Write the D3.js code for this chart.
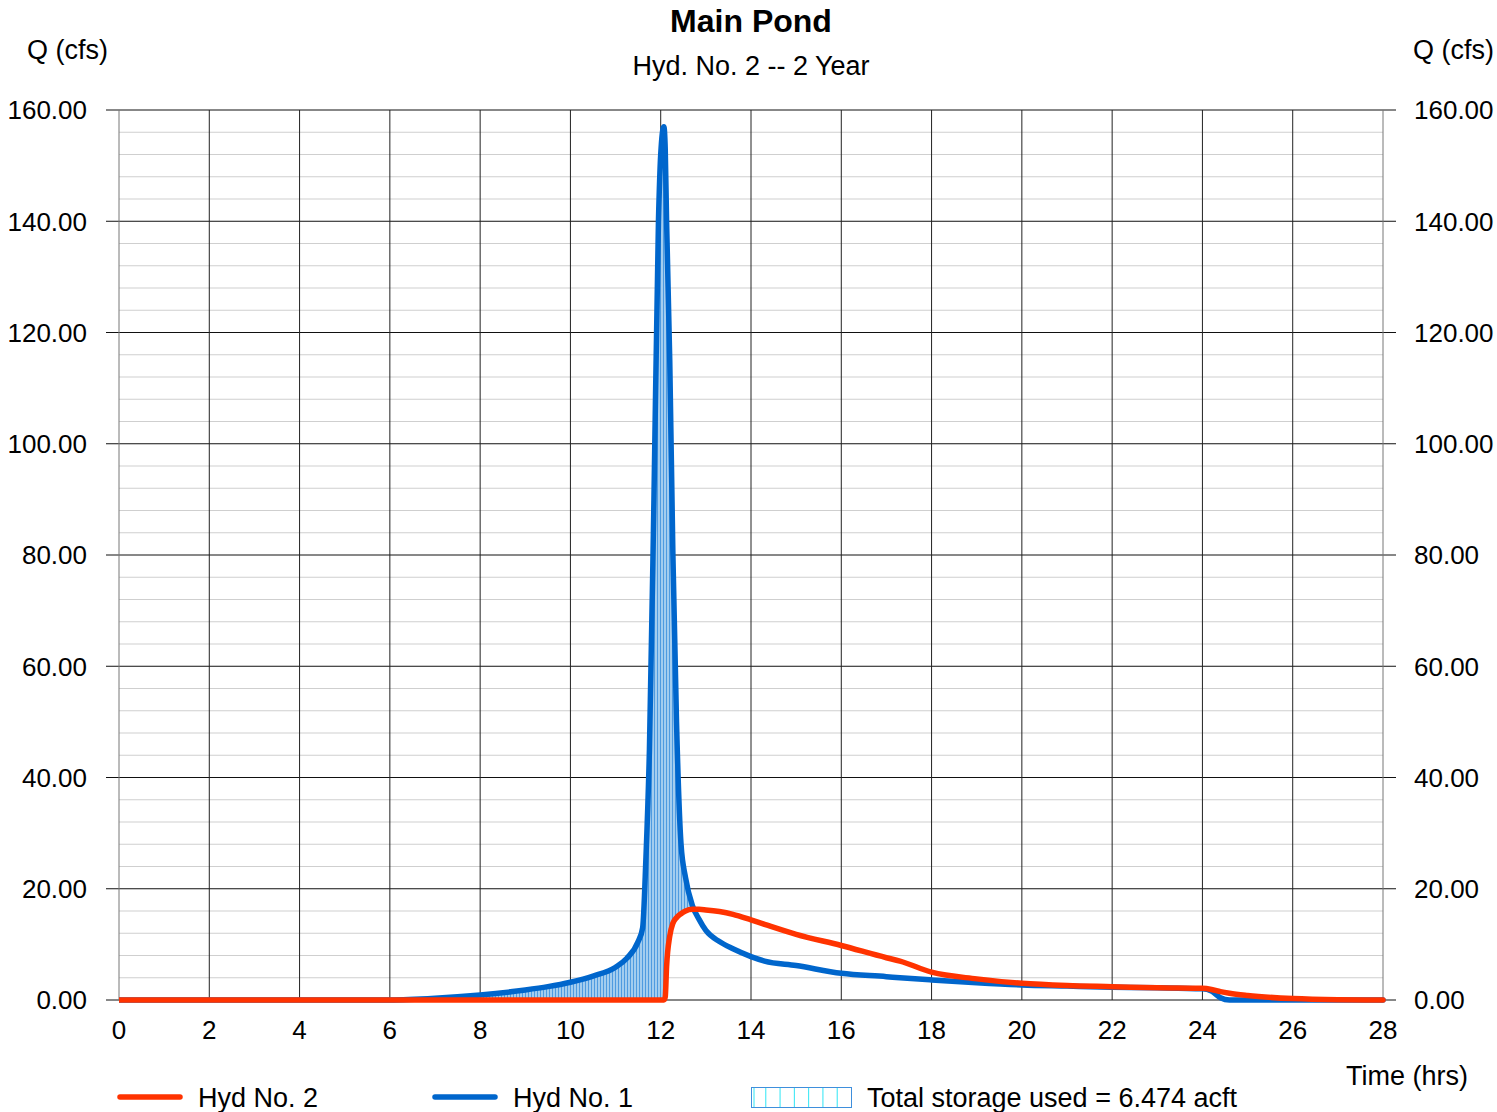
<!DOCTYPE html>
<html>
<head>
<meta charset="utf-8">
<script src="https://cdn.jsdelivr.net/npm/d3@7"></script>
<style>
  body { margin: 0; background: #fff; }
  svg text { font-family: "Liberation Sans", Arial, sans-serif; fill: #000; }
</style>
</head>
<body>
<svg id="chart" width="1497" height="1112"></svg>
<script>
(function() {
    'use strict';

    // time axis (hrs), shared by both hydrographs
    var hours = [0, 6, 7, 8, 9, 9.5, 10, 10.5, 11, 11.25, 11.5, 11.6, 11.67, 11.75, 11.85, 11.95,
        12.0, 12.07, 12.1, 12.13, 12.2, 12.27, 12.35, 12.45, 12.55, 12.7, 12.85, 13.0, 13.3, 13.6,
        14.0, 14.3, 15, 16, 17, 17.3, 18, 19, 20, 21, 22, 23, 24, 24.2, 24.4, 24.6, 25, 26, 27, 28];

    // Hyd No. 1 - inflow (cfs)
    var hyd1 = [0, 0, 0.3, 0.9, 1.8, 2.4, 3.2, 4.3, 5.9, 7.5, 10.5, 13, 25, 45, 90, 140,
        152, 157, 153, 140, 115, 80, 50, 28, 22, 17, 14.5, 12.5, 10.5, 9.2,
        7.8, 7.0, 6.2, 4.8, 4.2, 4.0, 3.6, 3.1, 2.7, 2.5, 2.3, 2.2, 2.0, 1.6, 0.4, 0, 0, 0, 0, 0];

    // Hyd No. 2 - pond outflow (cfs)
    var hyd2 = [0, 0, 0, 0, 0, 0, 0, 0, 0, 0, 0, 0, 0, 0, 0, 0,
        0, 0, 0.5, 6, 11.5, 13.8, 14.8, 15.5, 16.0, 16.3, 16.3, 16.2, 15.9, 15.4,
        14.4, 13.6, 11.8, 9.8, 7.6, 7.0, 5.0, 3.8, 3.0, 2.6, 2.4, 2.2, 2.1, 1.9, 1.5, 1.2, 0.8, 0.25, 0.05, 0];

    var xTicks = d3.range(0, 29, 2);
    var yTicks = d3.range(0, 161, 20);
    var yMinor = d3.range(0, 161, 4);

    var legendItems = ["Hyd No. 2", "Hyd No. 1", "Total storage used = 6.474 acft"];

    var red = "#ff3300",
        blue = "#0066cc";

    var left = 119, right = 1383, top = 110, bottom = 1000;

    var svg = d3.select("#chart");

    var x = d3.scaleLinear().domain([0, 28]).range([left, right]);
    var y = d3.scaleLinear().domain([0, 160]).range([bottom, top]);

    var defs = svg.append("defs");
    defs.append("clipPath").attr("id", "plot")
        .append("rect").attr("x", left).attr("y", top - 5)
        .attr("width", right - left + 5).attr("height", bottom - top + 10);

    var pat = defs.append("pattern").attr("id", "hatch")
        .attr("patternUnits", "userSpaceOnUse")
        .attr("width", 3).attr("height", 10);
    pat.append("rect").attr("width", 3).attr("height", 10).attr("fill", "#a3cdef");
    pat.append("rect").attr("width", 1).attr("height", 10).attr("fill", "#4f9be0");

    // minor grid
    svg.append("g").selectAll("line")
        .data(yMinor.filter(function(d) { return d % 20 !== 0; }))
        .enter().append("line")
        .attr("x1", left).attr("x2", right)
        .attr("y1", function(d) { return y(d); })
        .attr("y2", function(d) { return y(d); })
        .attr("stroke", "#cfcfcf").attr("stroke-width", 1);

    // major grid
    svg.append("g").selectAll("line")
        .data(yTicks)
        .enter().append("line")
        .attr("x1", left - 13).attr("x2", right + 13)
        .attr("y1", function(d) { return y(d); })
        .attr("y2", function(d) { return y(d); })
        .attr("stroke", "#111").attr("stroke-width", 1);

    svg.append("g").selectAll("line")
        .data(xTicks)
        .enter().append("line")
        .attr("x1", function(d) { return x(d); })
        .attr("x2", function(d) { return x(d); })
        .attr("y1", top).attr("y2", bottom)
        .attr("stroke", function(d) { return (d === 0 || d === 28) ? "#777" : "#222"; })
        .attr("stroke-width", 1);

    var plot = svg.append("g").attr("clip-path", "url(#plot)");

    // storage fill between inflow and outflow
    var storage = d3.area()
        .curve(d3.curveMonotoneX)
        .x(function(d, i) { return x(hours[i]); })
        .y0(function(d, i) { return y(Math.min(hyd2[i], hyd1[i])); })
        .y1(function(d, i) { return y(hyd1[i]); });

    plot.append("path")
        .datum(hyd1)
        .attr("d", storage)
        .attr("fill", "url(#hatch)");

    var line = function(series) {
        return d3.line()
            .curve(d3.curveMonotoneX)
            .x(function(d, i) { return x(hours[i]); })
            .y(function(d) { return y(d); })(series);
    };

    plot.append("path")
        .attr("d", line(hyd1))
        .attr("fill", "none").attr("stroke", blue)
        .attr("stroke-width", 5.5).attr("stroke-linejoin", "round").attr("stroke-linecap", "round");

    plot.append("path")
        .attr("d", line(hyd2))
        .attr("fill", "none").attr("stroke", red)
        .attr("stroke-width", 5.5).attr("stroke-linejoin", "round").attr("stroke-linecap", "round");

    // tick labels
    svg.append("g").selectAll("text")
        .data(yTicks).enter().append("text")
        .attr("x", 87).attr("y", function(d) { return y(d); })
        .attr("dy", "0.36em").attr("text-anchor", "end")
        .style("font-size", "26px")
        .text(function(d) { return d.toFixed(2); });

    svg.append("g").selectAll("text")
        .data(yTicks).enter().append("text")
        .attr("x", 1414).attr("y", function(d) { return y(d); })
        .attr("dy", "0.36em").attr("text-anchor", "start")
        .style("font-size", "26px")
        .text(function(d) { return d.toFixed(2); });

    svg.append("g").selectAll("text")
        .data(xTicks).enter().append("text")
        .attr("x", function(d) { return x(d); }).attr("y", 1039)
        .attr("text-anchor", "middle")
        .style("font-size", "26px")
        .text(function(d) { return d; });

    // titles
    svg.append("text").attr("x", 751).attr("y", 32).attr("text-anchor", "middle")
        .style("font-size", "32px").style("font-weight", "bold").text("Main Pond");
    svg.append("text").attr("x", 751).attr("y", 75).attr("text-anchor", "middle")
        .style("font-size", "27px").text("Hyd. No. 2 -- 2 Year");
    svg.append("text").attr("x", 27).attr("y", 59)
        .style("font-size", "27px").text("Q (cfs)");
    svg.append("text").attr("x", 1494).attr("y", 59).attr("text-anchor", "end")
        .style("font-size", "27px").text("Q (cfs)");
    svg.append("text").attr("x", 1468).attr("y", 1085).attr("text-anchor", "end")
        .style("font-size", "27px").text("Time (hrs)");

    // legend
    var lg = svg.append("g");
    lg.append("line").attr("x1", 120).attr("x2", 180).attr("y1", 1097).attr("y2", 1097)
        .attr("stroke", red).attr("stroke-width", 5.5).attr("stroke-linecap", "round");
    lg.append("text").attr("x", 198).attr("y", 1107).style("font-size", "27px").text(legendItems[0]);
    lg.append("line").attr("x1", 435).attr("x2", 495).attr("y1", 1097).attr("y2", 1097)
        .attr("stroke", blue).attr("stroke-width", 5.5).attr("stroke-linecap", "round");
    lg.append("text").attr("x", 513).attr("y", 1107).style("font-size", "27px").text(legendItems[1]);

    lg.append("rect").attr("x", 751.5).attr("y", 1087.5).attr("width", 100).attr("height", 20)
        .attr("fill", "#fff").attr("stroke", "#3f8fdc").attr("stroke-width", 1);
    lg.selectAll("line.cell")
        .data(d3.range(1, 7)).enter().append("line")
        .attr("class", "cell")
        .attr("x1", function(d) { return 751.5 + d * 100 / 7; })
        .attr("x2", function(d) { return 751.5 + d * 100 / 7; })
        .attr("y1", 1088).attr("y2", 1107)
        .attr("stroke", "#2ee6f5").attr("stroke-width", 1);
    lg.append("line").attr("x1", 754).attr("x2", 754).attr("y1", 1088).attr("y2", 1107)
        .attr("stroke", "#2ee6f5").attr("stroke-width", 1);
    lg.append("text").attr("x", 867).attr("y", 1107).style("font-size", "27px").text(legendItems[2]);
})();
</script>
</body>
</html>
